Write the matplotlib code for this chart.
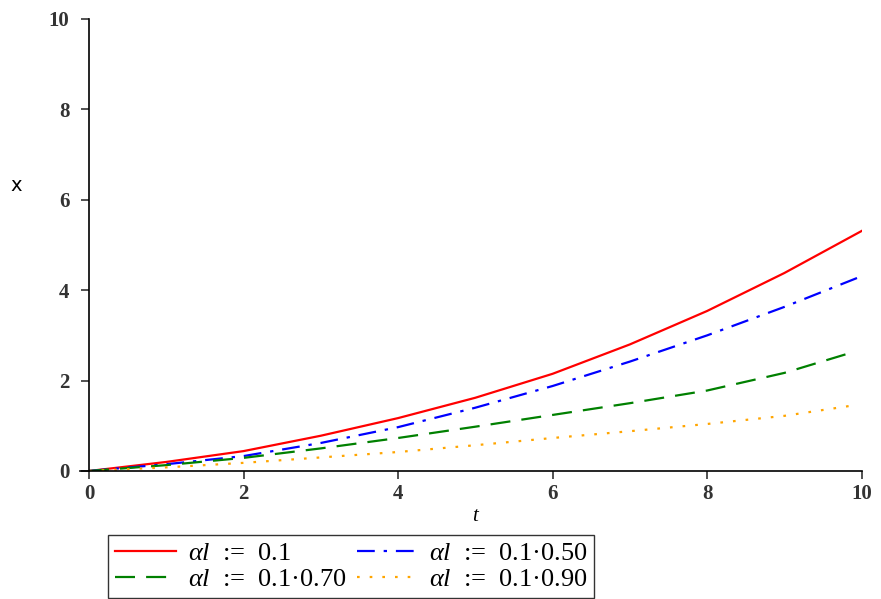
import matplotlib.pyplot as plt

# values
t = [0, 1, 2, 3, 4, 5, 6, 7, 8, 9, 10]
t_short = [0, 1, 2, 3, 4, 5, 6, 7, 8, 9, 9.85]

x_a = [0, 0.20, 0.44, 0.78, 1.17, 1.62, 2.15, 2.80, 3.54, 4.38, 5.31]
x_b = [0, 0.15, 0.33, 0.62, 0.97, 1.40, 1.88, 2.42, 3.00, 3.63, 4.31]
x_c = [0, 0.13, 0.29, 0.50, 0.73, 0.98, 1.24, 1.50, 1.78, 2.17, 2.61]
x_d = [0, 0.08, 0.18, 0.30, 0.42, 0.57, 0.73, 0.88, 1.04, 1.22, 1.44]

labels = [r"$\alpha l$  :=  0.1", r"$\alpha l$  :=  0.1·0.70",
          r"$\alpha l$  :=  0.1·0.50", r"$\alpha l$  :=  0.1·0.90"]

plt.rcParams["font.family"] = ["Liberation Serif", "DejaVu Serif"]
plt.rcParams["mathtext.fontset"] = "custom"
plt.rcParams["mathtext.it"] = "Liberation Serif:italic"
plt.rcParams["mathtext.rm"] = "Liberation Serif"

fig = plt.figure(figsize=(8.81, 5.99), dpi=100)
ax = fig.add_axes([0.101, 0.2137, 0.877, 0.7546])

l1, = ax.plot(t, x_a, color="red", lw=1.6, ls="-")
l3, = ax.plot(t, x_b, color="blue", lw=1.6, ls=(0, (8, 4, 1.5, 4)))
l2, = ax.plot(t_short, x_c, color="green", lw=1.6, ls=(0, (9, 5)))
l4, = ax.plot(t_short, x_d, color="orange", lw=1.6, ls=(0, (1.2, 4.5)))

ax.set_xlim(0, 10)
ax.set_ylim(0, 10)
ax.set_xticks([0, 2, 4, 6, 8, 10])
ax.set_yticks([0, 2, 4, 6, 8, 10])
ax.spines["top"].set_visible(False)
ax.spines["right"].set_visible(False)
ax.spines["left"].set_linewidth(1.2)
ax.spines["bottom"].set_linewidth(1.2)
ax.spines["bottom"].set_bounds(-0.12, 10)
ax.tick_params(labelsize=15, length=6, width=1.2, colors="#333333")
ax.tick_params(axis="y", pad=8)
for lab in ax.get_xticklabels() + ax.get_yticklabels():
    lab.set_fontweight("bold")

fig.text(0.012, 0.69, "x", fontsize=14, family="DejaVu Sans", va="center")
ax.set_xlabel("t", fontsize=15, style="italic", labelpad=2)

fig.legend([l1, l2, l3, l4], labels, ncol=2, loc="upper left",
           bbox_to_anchor=(0.123, 0.107), borderaxespad=0,
           fontsize=19, frameon=True, fancybox=False, edgecolor="black",
           handlelength=2.3, columnspacing=0.4, borderpad=0.25,
           labelspacing=0.1, handletextpad=0.45)

fig.savefig("out.png", dpi=100)
